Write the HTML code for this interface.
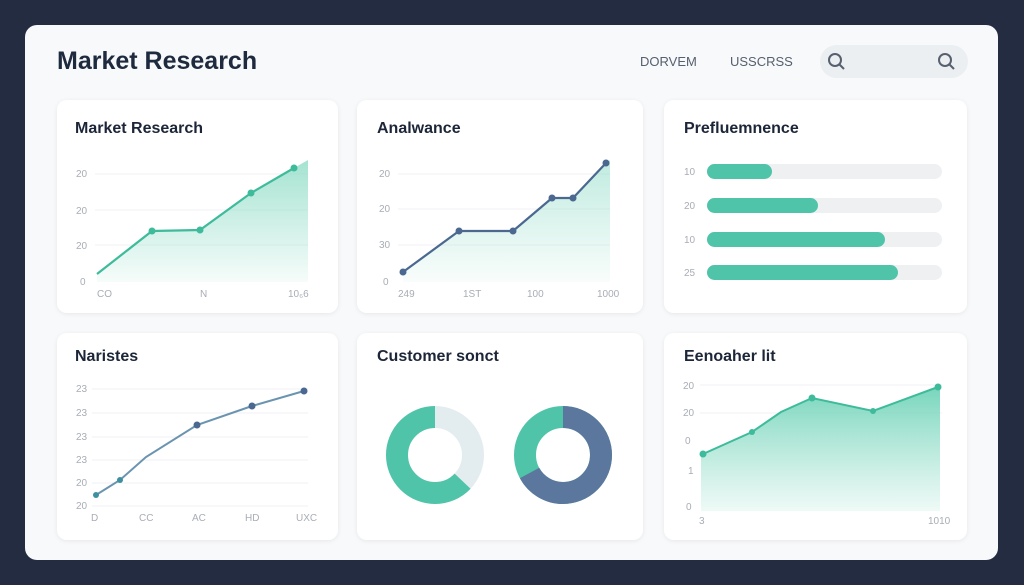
<!DOCTYPE html>
<html><head><meta charset="utf-8"><style>
html,body{margin:0;padding:0;background:#232c40;}
svg{display:block;font-family:"Liberation Sans",sans-serif;}
.t{font-size:16px;font-weight:bold;fill:#1c2638;}
.a{font-size:10px;fill:#a8adb5;}
</style></head><body>
<svg width="1024" height="585" viewBox="0 0 1024 585">
<defs>
<linearGradient id="g1" x1="0" y1="0" x2="0" y2="1"><stop offset="0" stop-color="#8fdcc6" stop-opacity=".8"/><stop offset="1" stop-color="#8fdcc6" stop-opacity=".08"/></linearGradient>
<linearGradient id="g2" x1="0" y1="0" x2="0" y2="1"><stop offset="0" stop-color="#6fd3b8" stop-opacity=".95"/><stop offset="1" stop-color="#8fdcc6" stop-opacity=".15"/></linearGradient>
<filter id="sh" x="-10%" y="-10%" width="120%" height="120%"><feDropShadow dx="0" dy="1" stdDeviation="2" flood-color="#000" flood-opacity=".07"/></filter>
</defs>
<rect x="0" y="0" width="1024" height="585" fill="#232c40"/>
<rect x="25" y="25" width="973" height="535" rx="12" fill="#f8f9fa"/>
<text x="57" y="69" font-size="25" font-weight="bold" fill="#1e2a3e">Market Research</text>
<text x="640" y="66" font-size="13" fill="#56606e">DORVEM</text>
<text x="730" y="66" font-size="13" fill="#56606e">USSCRSS</text>
<rect x="820" y="45" width="148" height="33" rx="16.5" fill="#eceff2"/>
<circle cx="835" cy="60" r="6" fill="none" stroke="#56606e" stroke-width="2"/><line x1="839" y1="64" x2="844" y2="69" stroke="#56606e" stroke-width="2"/>
<circle cx="945" cy="60" r="6" fill="none" stroke="#56606e" stroke-width="2"/><line x1="949" y1="64" x2="954" y2="69" stroke="#56606e" stroke-width="2"/>

<g filter="url(#sh)" fill="#fff">
<rect x="57" y="100" width="281" height="213" rx="10"/>
<rect x="357" y="100" width="286" height="213" rx="10"/>
<rect x="664" y="100" width="303" height="213" rx="10"/>
<rect x="57" y="333" width="281" height="207" rx="10"/>
<rect x="357" y="333" width="286" height="207" rx="10"/>
<rect x="664" y="333" width="303" height="207" rx="10"/>
</g>

<!-- Card 1 -->
<text x="75" y="133" class="t">Market Research</text>
<g stroke="#f0f2f4"><line x1="95" y1="174" x2="308" y2="174"/><line x1="95" y1="210" x2="308" y2="210"/><line x1="95" y1="245" x2="308" y2="245"/></g>
<g class="a"><text x="76" y="177">20</text><text x="76" y="214">20</text><text x="76" y="249">20</text><text x="80" y="285">0</text>
<text x="97" y="297">CO</text><text x="200" y="297">N</text><text x="288" y="297">10₆6</text></g>
<path d="M97,274 L152,231 L200,230 L251,193 L294,168 L308,160 L308,282 L97,282Z" fill="url(#g1)"/>
<polyline points="97,274 152,231 200,230 251,193 294,168" fill="none" stroke="#3dbb9b" stroke-width="2.2"/>
<g fill="#3dbb9b"><circle cx="152" cy="231" r="3.5"/><circle cx="200" cy="230" r="3.5"/><circle cx="251" cy="193" r="3.5"/><circle cx="294" cy="168" r="3.5"/></g>

<!-- Card 2 -->
<text x="377" y="133" class="t">Analwance</text>
<g stroke="#f0f2f4"><line x1="398" y1="174" x2="610" y2="174"/><line x1="398" y1="209" x2="610" y2="209"/><line x1="398" y1="245" x2="610" y2="245"/></g>
<g class="a"><text x="379" y="177">20</text><text x="379" y="212">20</text><text x="379" y="248">30</text><text x="383" y="285">0</text>
<text x="398" y="297">249</text><text x="463" y="297">1ST</text><text x="527" y="297">100</text><text x="597" y="297">1000</text></g>
<path d="M403,272 L459,231 L513,231 L552,198 L573,198 L606,163 L610,160 L610,282 L403,282Z" fill="url(#g1)" opacity=".7"/>
<polyline points="403,272 459,231 513,231 552,198 573,198 606,163" fill="none" stroke="#4a6890" stroke-width="2.2"/>
<g fill="#4a6890"><circle cx="403" cy="272" r="3.5"/><circle cx="459" cy="231" r="3.5"/><circle cx="513" cy="231" r="3.5"/><circle cx="552" cy="198" r="3.5"/><circle cx="573" cy="198" r="3.5"/><circle cx="606" cy="163" r="3.5"/></g>

<!-- Card 3 -->
<text x="684" y="133" class="t">Prefluemnence</text>
<g class="a"><text x="684" y="175">10</text><text x="684" y="209">20</text><text x="684" y="243">10</text><text x="684" y="276">25</text></g>
<g fill="#eef0f2"><rect x="707" y="164" width="235" height="15" rx="7.5"/><rect x="707" y="198" width="235" height="15" rx="7.5"/><rect x="707" y="232" width="235" height="15" rx="7.5"/><rect x="707" y="265" width="235" height="15" rx="7.5"/></g>
<g fill="#4fc4a8"><rect x="707" y="164" width="65" height="15" rx="7.5"/><rect x="707" y="198" width="111" height="15" rx="7.5"/><rect x="707" y="232" width="178" height="15" rx="7.5"/><rect x="707" y="265" width="191" height="15" rx="7.5"/></g>

<!-- Card 4 -->
<text x="75" y="361" class="t">Naristes</text>
<g stroke="#f0f2f4"><line x1="92" y1="389" x2="308" y2="389"/><line x1="92" y1="413" x2="308" y2="413"/><line x1="92" y1="437" x2="308" y2="437"/><line x1="92" y1="460" x2="308" y2="460"/><line x1="92" y1="483" x2="308" y2="483"/><line x1="92" y1="506" x2="308" y2="506"/></g>
<g class="a"><text x="76" y="392">23</text><text x="76" y="416">23</text><text x="76" y="440">23</text><text x="76" y="463">23</text><text x="76" y="486">20</text><text x="76" y="509">20</text>
<text x="91" y="521">D</text><text x="139" y="521">CC</text><text x="192" y="521">AC</text><text x="245" y="521">HD</text><text x="296" y="521">UXC</text></g>
<polyline points="96,495 120,480 146,457 197,425 252,406 304,391" fill="none" stroke="#6a94b0" stroke-width="2"/>
<g fill="#3e8fa0"><circle cx="96" cy="495" r="3"/><circle cx="120" cy="480" r="3"/></g>
<g fill="#4a6890"><circle cx="197" cy="425" r="3.5"/><circle cx="252" cy="406" r="3.5"/><circle cx="304" cy="391" r="3.5"/></g>

<!-- Card 5 -->
<text x="377" y="361" class="t">Customer sonct</text>
<circle cx="435" cy="455" r="38" fill="none" stroke="#e3ecee" stroke-width="22"/>
<circle cx="435" cy="455" r="38" fill="none" stroke="#4fc4a8" stroke-width="22" stroke-dasharray="150 239" transform="rotate(-90 435 455) scale(1,-1) translate(0,-910)"/>
<circle cx="563" cy="455" r="38" fill="none" stroke="#4fc4a8" stroke-width="22"/>
<circle cx="563" cy="455" r="38" fill="none" stroke="#5b779e" stroke-width="22" stroke-dasharray="160 239" transform="rotate(-90 563 455)"/>

<!-- Card 6 -->
<text x="684" y="361" class="t">Eenoaher lit</text>
<g stroke="#f0f2f4"><line x1="700" y1="385" x2="942" y2="385"/><line x1="700" y1="413" x2="942" y2="413"/></g>
<g class="a"><text x="683" y="389">20</text><text x="683" y="416">20</text><text x="685" y="444">0</text><text x="688" y="474">1</text><text x="686" y="510">0</text>
<text x="699" y="524">3</text><text x="928" y="524">1010</text></g>
<path d="M701,454 L752,432 L781,412 L812,398 L873,411 L940,386 L940,511 L701,511Z" fill="url(#g2)"/>
<polyline points="703,454 752,432 781,412 812,398 873,411 938,387" fill="none" stroke="#3dbb9b" stroke-width="2"/>
<g fill="#3dbb9b"><circle cx="703" cy="454" r="3.5"/><circle cx="752" cy="432" r="3"/><circle cx="812" cy="398" r="3.5"/><circle cx="873" cy="411" r="3"/><circle cx="938" cy="387" r="3.5"/></g>
</svg>
</body></html>
